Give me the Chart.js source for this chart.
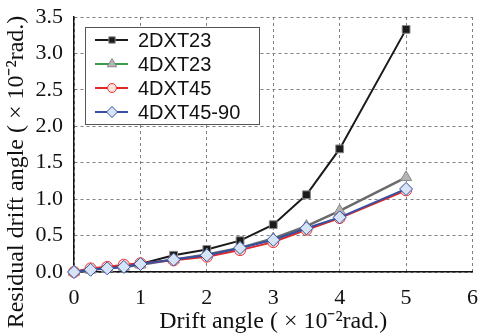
<!DOCTYPE html>
<html>
<head>
<meta charset="utf-8">
<script src="https://cdn.jsdelivr.net/npm/chart.js@4.4.0/dist/chart.umd.min.js"></script>
<style>
  html, body { margin: 0; padding: 0; background: #fff; }
  #wrap { width: 480px; height: 336px; }
</style>
</head>
<body>
<div id="wrap"><canvas id="drift" width="480" height="336"></canvas></div>
<script>
// drift angle steps (x10^-2 rad.)
var drift = [0, 0.25, 0.5, 0.75, 1, 1.5, 2, 2.5, 3, 3.5, 4, 5];
// residual drift angle for each specimen
var s2DXT23   = [0, 0.04, 0.07, 0.09, 0.11, 0.23, 0.31, 0.43, 0.65, 1.06, 1.69, 3.33];
var s4DXT23   = [0, 0.03, 0.05, 0.07, 0.10, 0.17, 0.24, 0.33, 0.46, 0.63, 0.84, 1.30];
var s4DXT45   = [0, 0.05, 0.07, 0.10, 0.12, 0.16, 0.21, 0.30, 0.41, 0.58, 0.74, 1.12];
var s4DXT4590 = [0, 0.03, 0.05, 0.07, 0.11, 0.17, 0.23, 0.33, 0.44, 0.60, 0.75, 1.14];
var names = ["2DXT23", "4DXT23", "4DXT45", "4DXT45-90"];
var xTicks = [0, 1, 2, 3, 4, 5, 6];
var yTicks = [0, 0.5, 1, 1.5, 2, 2.5, 3, 3.5];
var xTitle = "Drift angle ( \u00d7 10\u207b\u00b2rad.)";
var yTitle = "Residual drift angle ( \u00d7 10\u207b\u00b2rad.)";

function pts(ys) {
  var out = [];
  for (var i in drift) out.push({x: drift[i], y: ys[i]});
  return out;
}

var serif = "'Liberation Serif', 'Times New Roman', serif";
var sans = "'Liberation Sans', Arial, sans-serif";

var styles = [
  {line: "#1a1a1a", lw: 2, ps: "rect", r: 5.5, fill: "#1a1a1a", edge: "#888", legLine: "#1a1a1a"},
  {line: "#6a6a6a", lw: 2.5, ps: "triangle", r: 6.5, fill: "#b4b4b4", edge: "#8a8a8a", legLine: "#3a9a48"},
  {line: "#e02828", lw: 2, ps: "circle", r: 5.5, fill: "#fde0dc", edge: "#ee3a30", legLine: "#e02828"},
  {line: "#3550a0", lw: 2, ps: "rectRot", r: 6.5, fill: "#d6e4f7", edge: "#3550a0", legLine: "#3550a0"}
];
var series = [s2DXT23, s4DXT23, s4DXT45, s4DXT4590];

var datasets = [];
for (var k = 0; k < 4; k++) {
  var st = styles[k];
  datasets.push({
    label: names[k],
    data: pts(series[k]),
    borderColor: st.line,
    borderWidth: st.lw,
    pointStyle: st.ps,
    pointRadius: st.r,
    pointBackgroundColor: st.fill,
    pointBorderColor: st.edge,
    pointBorderWidth: 1,
    tension: 0,
    clip: false,
    order: 3 - k
  });
}

// legend inside the plot (line + marker) and the y title centred on the canvas
var extras = {
  id: "extras",
  afterDraw: function(chart) {
    var c = chart.ctx;
    var x0 = 85, y0 = 27, w = 174, h = 97;
    c.save();
    c.fillStyle = "#fff";
    c.fillRect(x0, y0, w, h);
    c.strokeStyle = "#555";
    c.lineWidth = 1;
    c.strokeRect(x0 + 0.5, y0 + 0.5, w, h);
    c.font = "20px " + sans;
    c.textBaseline = "middle";
    for (var i = 0; i < 4; i++) {
      var st = styles[i];
      var yy = 40 + i * 24;
      c.strokeStyle = st.legLine;
      c.lineWidth = 2;
      c.beginPath();
      c.moveTo(95, yy);
      c.lineTo(128, yy);
      c.stroke();
      c.fillStyle = st.fill;
      c.strokeStyle = st.edge;
      c.lineWidth = 1;
      Chart.helpers.drawPoint(c, {pointStyle: st.ps, radius: st.r - 1, borderWidth: 1, rotation: 0}, 112, yy);
      c.fillStyle = "#111";
      c.fillText(names[i], 138, yy + 1);
    }
    // y axis title
    c.translate(17, 172);
    c.rotate(-Math.PI / 2);
    c.font = "24px " + serif;
    c.fillStyle = "#111";
    c.textAlign = "center";
    c.textBaseline = "middle";
    c.fillText(yTitle, 0, 0);
    c.restore();
  }
};

var gridStyle = {color: "#808080", lineWidth: 1, drawTicks: false};

new Chart(document.getElementById("drift"), {
  type: "line",
  data: {datasets: datasets},
  plugins: [extras],
  options: {
    responsive: false,
    animation: false,
    layout: {padding: {top: 17, right: 4, left: 0, bottom: 0}},
    plugins: {legend: {display: false}, tooltip: {enabled: false}},
    scales: {
      x: {
        type: "linear",
        min: 0, max: 6,
        afterBuildTicks: function(s) { s.ticks = xTicks.map(function(v) { return {value: v}; }); },
        grid: gridStyle,
        border: {display: true, color: "#111", width: 1.5, dash: [3, 3]},
        ticks: {color: "#111", font: {family: serif, size: 22}, padding: 13, maxRotation: 0, autoSkip: false},
        title: {display: true, text: xTitle, color: "#111",
                font: {family: serif, size: 24}, padding: {top: 0, bottom: 0}},
        afterFit: function(s) { s.height = 64; s.paddingLeft = 0; s.paddingRight = 0; }
      },
      y: {
        type: "linear",
        min: 0, max: 3.5,
        afterBuildTicks: function(s) { s.ticks = yTicks.map(function(v) { return {value: v}; }); },
        grid: gridStyle,
        border: {display: true, color: "#111", width: 1.5, dash: [3, 3]},
        ticks: {color: "#111", font: {family: serif, size: 22}, padding: 11,
                callback: function(v) { return Number(v).toFixed(1); }},
        afterFit: function(s) { s.width = 74; s.paddingTop = 0; s.paddingBottom = 0; }
      }
    }
  }
});
</script>
</body>
</html>
